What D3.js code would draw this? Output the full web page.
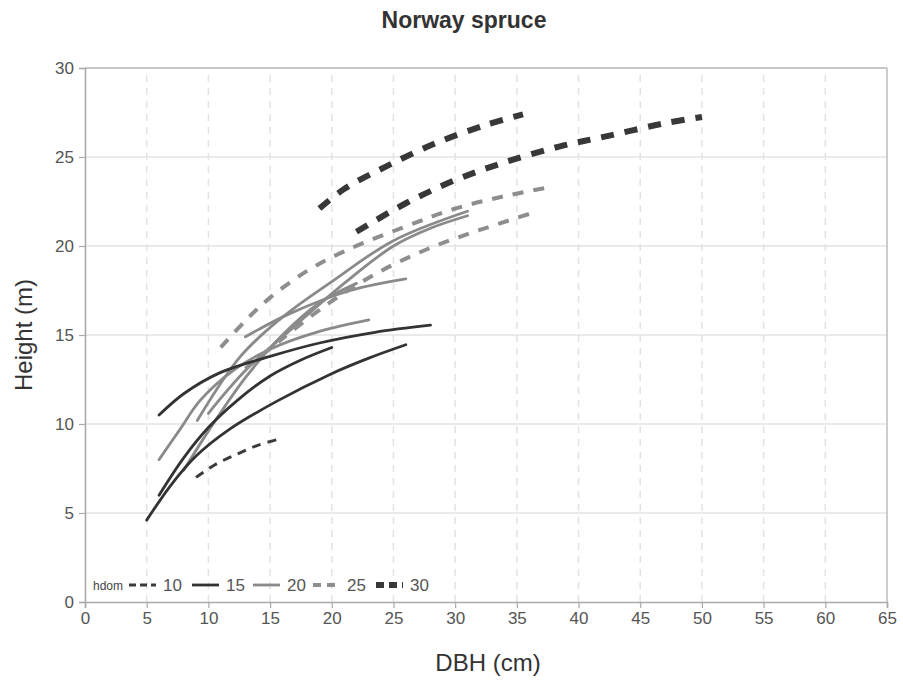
<!DOCTYPE html>
<html>
<head>
<meta charset="utf-8">
<script src="https://cdn.jsdelivr.net/npm/d3@7"></script>
<style>
  html, body { margin: 0; padding: 0; background: #fff; }
  svg { display: block; font-family: "Liberation Sans", Arial, sans-serif; }
</style>
</head>
<body>
<svg id="chart" width="903" height="682"></svg>
<script>
// Height–diameter curves for Norway spruce, grouped by dominant height class (hdom)
const hdomClasses = [10, 15, 20, 25, 30];
const xTicks = [0, 5, 10, 15, 20, 25, 30, 35, 40, 45, 50, 55, 60, 65];
const yTicks = [0, 5, 10, 15, 20, 25, 30];

// each curve: [DBH (cm), height (m)] pairs
const hdom10 = [
  [[9, 7.0], [10.5, 7.7], [12.3, 8.3], [14, 8.8], [16, 9.2]]
];
const hdom15 = [
  [[5, 4.6], [7, 6.6], [9, 8.2], [11.7, 9.7], [15.6, 11.3], [19.9, 12.8], [23, 13.7], [26, 14.45]],
  [[6, 6.0], [8, 8.1], [10, 9.8], [12.3, 11.3], [15, 12.7], [17.5, 13.6], [20, 14.3]],
  [[6, 10.5], [8, 11.7], [11, 12.9], [15, 13.8], [19, 14.55], [23.5, 15.15], [28, 15.55]]
];
const hdom20 = [
  [[6, 8.0], [7.7, 9.7], [9.3, 11.3], [12, 13.0], [15, 14.2], [19, 15.2], [23, 15.85]],
  [[13, 14.9], [16.6, 16.2], [21.5, 17.5], [26, 18.15]],
  [[9.1, 10.2], [12.6, 13.8], [16, 16.0], [20, 18.0], [25, 20.3], [31, 21.95]],
  [[10, 10.6], [13, 13.0], [17, 15.5], [21, 17.9], [25, 20.0], [28, 21.0], [31, 21.7]],
  [[8, 7.4], [10, 9.6], [13, 12.6], [16, 15.0], [19, 16.8], [22, 17.9]]
];
const hdom25 = [
  [[11, 14.3], [13, 15.8], [15, 17.1], [18, 18.6], [21, 19.7], [26, 21.1], [30, 22.1], [34, 22.8], [38, 23.35]],
  [[13, 13.1], [16, 14.8], [20, 16.9], [24, 18.6], [28, 19.9], [32, 20.9], [36, 21.8]]
];
const hdom30 = [
  [[19, 22.1], [21, 23.2], [24.5, 24.5], [28.5, 25.8], [32.5, 26.8], [35.5, 27.4]],
  [[22, 20.8], [26, 22.4], [30, 23.7], [34, 24.7], [38.5, 25.6], [42.5, 26.2], [47, 26.9], [50, 27.25]]
];

const curvesByClass = { 10: hdom10, 15: hdom15, 20: hdom20, 25: hdom25, 30: hdom30 };

// line style per hdom class
const styles = {
  10: { stroke: "#3b3b3b", width: 3,   dash: "9,7",   cap: "butt" },
  15: { stroke: "#333333", width: 2.8, dash: null,    cap: "round" },
  20: { stroke: "#8a8a8a", width: 2.8, dash: null,    cap: "round" },
  25: { stroke: "#8e8e8e", width: 4,   dash: "11,10", cap: "butt" },
  30: { stroke: "#383838", width: 6,   dash: "13,11", cap: "butt" }
};

const svg = d3.select("#chart");
const margin = { left: 85, top: 68, right: 16, bottom: 80 };
const W = 903, H = 682;
const x = d3.scaleLinear().domain([0, 65]).range([margin.left, W - margin.right]);
const y = d3.scaleLinear().domain([0, 30]).range([H - margin.bottom, margin.top]);

// title
svg.append("text")
  .attr("x", 464).attr("y", 28)
  .attr("text-anchor", "middle")
  .attr("font-size", 23).attr("font-weight", "bold")
  .attr("fill", "#333")
  .text("Norway spruce");

// grid
const grid = svg.append("g");
grid.selectAll("line.h").data(yTicks.slice(1)).join("line")
  .attr("x1", x(0)).attr("x2", x(65))
  .attr("y1", d => y(d)).attr("y2", d => y(d))
  .attr("stroke", "#e3e3e3").attr("stroke-width", 1.5);
grid.selectAll("line.v").data(xTicks.slice(1, -1)).join("line")
  .attr("x1", d => x(d)).attr("x2", d => x(d))
  .attr("y1", y(0)).attr("y2", y(30))
  .attr("stroke", "#e3e3e3").attr("stroke-width", 1.5)
  .attr("stroke-dasharray", "7,6");

// frame: top and right edges
svg.append("line").attr("x1", x(0)).attr("x2", x(65)).attr("y1", y(30)).attr("y2", y(30))
  .attr("stroke", "#bdbdbd").attr("stroke-width", 1.5);
svg.append("line").attr("x1", x(65)).attr("x2", x(65)).attr("y1", y(30)).attr("y2", y(0))
  .attr("stroke", "#bdbdbd").attr("stroke-width", 1.5);

// axes
const xAxis = svg.append("g").attr("transform", `translate(0,${y(0)})`)
  .call(d3.axisBottom(x).tickValues(xTicks).tickSize(6).tickPadding(4));
const yAxis = svg.append("g").attr("transform", `translate(${x(0)},0)`)
  .call(d3.axisLeft(y).tickValues(yTicks).tickSize(6).tickPadding(5));
[xAxis, yAxis].forEach(g => {
  g.select(".domain").attr("stroke", "#aaaaaa").attr("stroke-width", 1.6);
  g.selectAll(".tick line").attr("stroke", "#aaaaaa").attr("stroke-width", 1.2);
  g.selectAll(".tick text").attr("fill", "#555").attr("font-size", 17)
    .attr("font-family", "'Liberation Sans', Arial, sans-serif");
});

// axis titles
svg.append("text")
  .attr("x", 488).attr("y", 671)
  .attr("text-anchor", "middle")
  .attr("font-size", 24).attr("fill", "#333")
  .text("DBH (cm)");
svg.append("text")
  .attr("transform", `translate(32,${(y(0) + y(30)) / 2}) rotate(-90)`)
  .attr("text-anchor", "middle")
  .attr("font-size", 24).attr("fill", "#333")
  .text("Height (m)");

// curves
const line = d3.line().x(d => x(d[0])).y(d => y(d[1])).curve(d3.curveCatmullRom.alpha(0.5));
const drawOrder = [20, 25, 15, 10, 30];
const curveLayer = svg.append("g");
drawOrder.forEach(h => {
  const s = styles[h];
  curveLayer.selectAll(null).data(curvesByClass[h]).join("path")
    .attr("d", line)
    .attr("fill", "none")
    .attr("stroke", s.stroke)
    .attr("stroke-width", s.width)
    .attr("stroke-linecap", s.cap)
    .attr("stroke-dasharray", s.dash);
});

// legend
const legend = svg.append("g").attr("transform", "translate(0,585)");
legend.append("text").attr("x", 93).attr("y", 4.5)
  .attr("font-size", 12).attr("fill", "#444").text("hdom");
const legendX = [129, 192, 253, 313, 376];
const legendDash = { 10: "7,4", 15: null, 20: null, 25: "8,6", 30: "8,5" };
hdomClasses.forEach((h, i) => {
  const s = styles[h];
  const x0 = legendX[i];
  legend.append("line")
    .attr("x1", x0).attr("x2", x0 + 27).attr("y1", 0).attr("y2", 0)
    .attr("stroke", s.stroke).attr("stroke-width", s.width)
    .attr("stroke-dasharray", legendDash[h]);
  legend.append("text").attr("x", x0 + 34).attr("y", 6)
    .attr("font-size", 17).attr("fill", "#555").text(h);
});
</script>
</body>
</html>
